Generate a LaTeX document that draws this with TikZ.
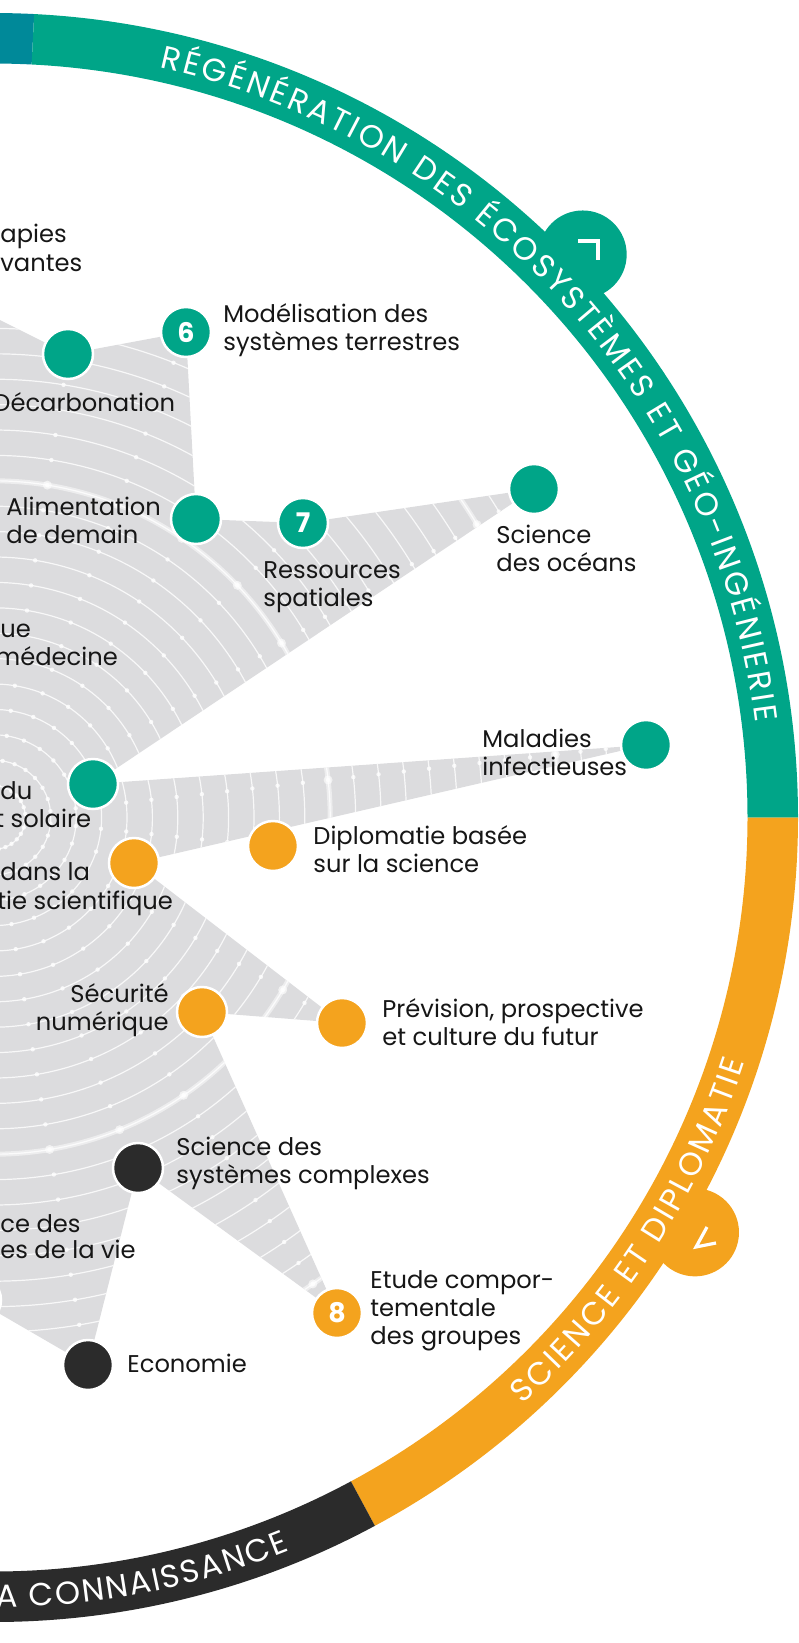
\documentclass[tikz,border=0pt]{standalone}
\usepackage{fontspec}
\setmainfont{Poppins}
\usetikzlibrary{calc,decorations.text}
\definecolor{ringteal}{RGB}{0,137,153}
\definecolor{ringgreen}{RGB}{0,165,136}
\definecolor{ringorange}{RGB}{244,163,30}
\definecolor{ringblack}{RGB}{43,43,43}
\definecolor{webgray}{RGB}{220,220,222}
\definecolor{labelink}{RGB}{22,22,22}
\newcommand{\lbltab}[2]{\begin{tabular}[t]{@{}#1@{}}#2\end{tabular}}
\newcommand{\lblfont}{\fontsize{12.1}{14}\selectfont}
\newcommand{\ringfont}{\fontsize{16}{18}\selectfont}
\newcommand{\numfont}{\fontsize{13.5}{13.5}\selectfont\bfseries}
\begin{document}
\begin{tikzpicture}[x=0.5pt,y=0.5pt,
  dotnode/.style={circle, minimum size=25pt, inner sep=0pt, draw=white, line width=1.25pt},
  gnode/.style={dotnode, fill=ringgreen},
  onode/.style={dotnode, fill=ringorange},
  knode/.style={dotnode, fill=ringblack},
  lbl/.style={inner sep=0pt, text=labelink, font=\lblfont},
  chev/.style={draw=white, line width=1.6pt},
  arcline/.style={draw=white, line width=0.6pt, opacity=0.8},
  arcthick/.style={draw=white, line width=2.5pt, opacity=0.5}]
\useasboundingbox (0,0) rectangle (798,-1643);
\clip (0,0) rectangle (798,-1643);
\coordinate (C) at (-6.5,-817.5);
% node positions
\coordinate (p1) at (68,-354);
\coordinate (p6) at (186,-332);
\coordinate (pAli) at (196,-519);
\coordinate (p7) at (303,-523);
\coordinate (pOce) at (534,-489);
\coordinate (pSol) at (93,-784);
\coordinate (pMal) at (646,-745);
\coordinate (pDans) at (134,-863);
\coordinate (pDip) at (273,-846);
\coordinate (pPrev) at (342,-1023);
\coordinate (pSec) at (202,-1012);
\coordinate (p8) at (337,-1313);
\coordinate (pCplx) at (138,-1168);
\coordinate (pEco) at (88,-1365);
\coordinate (pOff) at (-24,-1300);
% grey web with concentric arcs
\begin{scope}
  \clip (-40,-300) -- (p1) -- (p6) -- (pAli) -- (p7) -- (pOce) -- (pSol) -- (pMal)
        -- (pDans) -- (pPrev) -- (pSec) -- (p8) -- (pCplx) -- (pEco) -- (pOff)
        -- (-40,-1300) -- cycle;
  \fill[webgray] (-40,-250) rectangle (800,-1450);
  \foreach \j in {1,...,27}{
    \draw[arcline] (C) circle[radius={25.4*\j+6.5}];
  }
  \draw[arcthick] (C) circle[radius=336.7];
  \draw[arcthick] (C) circle[radius=565.3];
  \foreach \k in {0,...,13}{
    \foreach \j in {1,...,27}{
      \fill[white, opacity=0.8] ($(C)+({-80.4+12.4*\k}:{25.4*\j+6.5})$) circle[radius=2.2];
    }
    \fill[white, opacity=0.6] ($(C)+({-80.4+12.4*\k}:336.7)$) circle[radius=4.5];
    \fill[white, opacity=0.6] ($(C)+({-80.4+12.4*\k}:565.3)$) circle[radius=4.5];
  }
\end{scope}
% outer ring
\fill[ringteal] ($(C)+(87.1:754)$) arc[start angle=87.1,end angle=100,radius=754]
  -- ($(C)+(100:804.5)$) arc[start angle=100,end angle=87.1,radius=804.5] -- cycle;
\fill[ringgreen] ($(C)+(0:754)$) arc[start angle=0,end angle=87.1,radius=754]
  -- ($(C)+(87.1:804.5)$) arc[start angle=87.1,end angle=0,radius=804.5] -- cycle;
\fill[ringorange] ($(C)+(-61.7:754)$) arc[start angle=-61.7,end angle=0,radius=754]
  -- ($(C)+(0:804.5)$) arc[start angle=0,end angle=-61.7,radius=804.5] -- cycle;
\fill[ringblack] ($(C)+(-100:754)$) arc[start angle=-100,end angle=-61.7,radius=754]
  -- ($(C)+(-61.7:804.5)$) arc[start angle=-61.7,end angle=-100,radius=804.5] -- cycle;
% bumps with chevrons
\fill[ringgreen] ($(C)+(43.7:815)$) circle[radius=44];
\fill[ringorange] ($(C)+(-30.6:815)$) circle[radius=44];
\coordinate (cg1) at (578,-241);
\coordinate (cg2) at (598,-241);
\coordinate (cg3) at (598,-260);
\draw[chev] (cg1) -- (cg2) -- (cg3);
\coordinate (co1) at (707,-1227);
\coordinate (co2) at (696,-1247);
\coordinate (co3) at (716,-1243);
\draw[chev] (co1) -- (co2) -- (co3);
% ring texts
\path[decorate, decoration={text along path,
   text={|\ringfont\color{white}|RÉGÉNÉRATION DES ÉCOSYSTÈMES ET GÉO-INGÉNIERIE},
   text align={fit to path}, raise=-5.6pt}]
   ($(C)+(77.5:779)$) arc[start angle=77.5, end angle=7.2, radius=779];
\path[decorate, decoration={text along path,
   text={|\ringfont\color{white}|SCIENCE ET DIPLOMATIE},
   text align={fit to path}, raise=-5.6pt}]
   ($(C)+(-48:779)$) arc[start angle=-48, end angle=-18, radius=779];
\path[decorate, decoration={text along path,
   text={|\ringfont\color{white}|A CONNAISSANCE},
   text align={fit to path}, raise=-5.6pt}]
   ($(C)+(-89.8:779)$) arc[start angle=-89.8, end angle=-68, radius=779];
% nodes
\node[gnode] (n1) at (p1) {};
\node[gnode] (n6) at (p6) {\textcolor{white}{\numfont 6}};
\node[gnode] (nAli) at (pAli) {};
\node[gnode] (n7) at (p7) {\textcolor{white}{\numfont 7}};
\node[gnode] (nOce) at (pOce) {};
\node[gnode] (nMal) at (pMal) {};
\node[gnode] (nSol) at (pSol) {};
\node[onode] (nDans) at (pDans) {};
\node[onode] (nDip) at (pDip) {};
\node[onode] (nSec) at (pSec) {};
\node[onode] (nPrev) at (pPrev) {};
\node[knode] (nCplx) at (pCplx) {};
\node[onode] (n8) at (p8) {\textcolor{white}{\numfont 8}};
\node[knode] (nEco) at (pEco) {};
\node[knode] (nOff) at (pOff) {};
% labels
\node[lbl, anchor=base west] (tA1) at (0,-242) {apies};
\node[lbl, anchor=base west] (tA2) at (0,-271) {vantes};
\node[lbl, anchor=base west] (tMod) at (223,-322) {\lbltab{l}{Modélisation des\\systèmes terrestres}};
\node[lbl, anchor=base west] (tDec) at (-7,-411) {Décarbonation};
\node[lbl, anchor=base west] (tAli) at (6,-515) {\lbltab{l}{Alimentation\\de demain}};
\node[lbl, anchor=base west] (tRes) at (263,-578) {\lbltab{l}{Ressources\\spatiales}};
\node[lbl, anchor=base west] (tOce) at (496,-543) {\lbltab{l}{Science\\des océans}};
\node[lbl, anchor=base west] (tUe) at (0,-637) {ue};
\node[lbl, anchor=base west] (tMed) at (-5,-665) {médecine};
\node[lbl, anchor=base west] (tMal) at (482,-747) {\lbltab{l}{Maladies\\infectieuses}};
\node[lbl, anchor=base west] (tDu) at (0,-799) {du};
\node[lbl, anchor=base west] (tSol) at (-5,-827) {t solaire};
\node[lbl, anchor=base west] (tDip) at (313,-844) {\lbltab{l}{Diplomatie basée\\sur la science}};
\node[lbl, anchor=base west] (tDans) at (0,-880) {dans la};
\node[lbl, anchor=base west] (tTie) at (-3,-909) {tie scientifique};
\node[lbl, anchor=base east] (tSec) at (169,-1002) {\lbltab{r}{Sécurité\\numérique}};
\node[lbl, anchor=base west] (tPrev) at (382,-1017) {\lbltab{l}{Prévision, prospective\\et culture du futur}};
\node[lbl, anchor=base west] (tCplx) at (176,-1155) {\lbltab{l}{Science des\\systèmes complexes}};
\node[lbl, anchor=base west] (tCe) at (0,-1232) {ce des};
\node[lbl, anchor=base west] (tVie) at (0,-1258) {es de la vie};
\node[lbl, anchor=base west] (tEtu) at (370,-1288) {\lbltab{l}{Etude compor-\\tementale\\des groupes}};
\node[lbl, anchor=base west] (tEco) at (127,-1372) {Economie};
\end{tikzpicture}
\end{document}
